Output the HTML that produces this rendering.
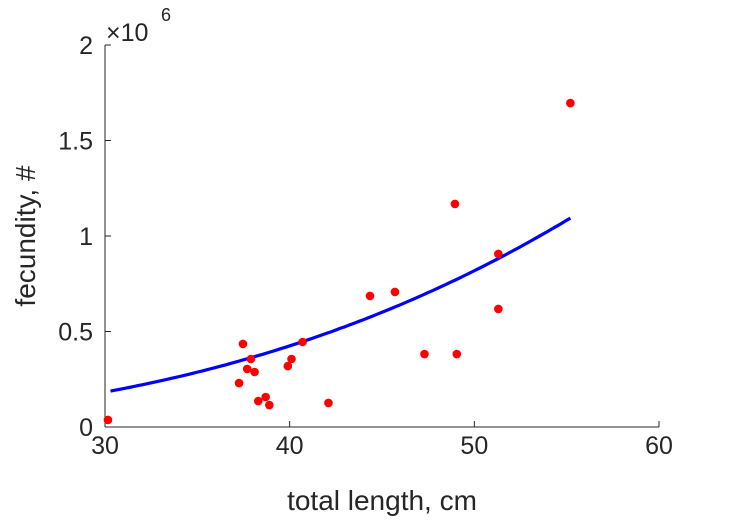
<!DOCTYPE html>
<html><head><meta charset="utf-8">
<style>
html,body{margin:0;padding:0;background:#fff;}
svg{display:block;font-family:"Liberation Sans",sans-serif;}
</style></head>
<body>
<svg id="chart" width="729" height="521" viewBox="0 0 729 521" xmlns="http://www.w3.org/2000/svg">
<g id="axes"></g>
<g id="series"></g>
</svg>
<script>
const xTicks=[30,40,50,60];
const yTicks=[0,0.5,1,1.5,2];
const yTickLabels=["0","0.5","1","1.5","2"];
const lengths=[30.16,37.47,37.26,37.7,37.9,38.1,38.3,38.7,38.9,39.9,40.1,40.7,42.1,44.35,45.7,47.3,48.95,49.05,51.3,51.3,55.2];
const fecundity=[0.037,0.435,0.23,0.304,0.356,0.288,0.136,0.157,0.115,0.319,0.356,0.445,0.126,0.686,0.707,0.382,1.168,0.382,0.906,0.618,1.696];
const fitRange=[30.3,55.2];
const fitParams=[0.188,30.3,2.936]; // y = a*(x/x0)^b (×1e6)

const NS="http://www.w3.org/2000/svg";
const X0=105,X1=659,Y0=427,Y1=45;
const xs=v=>X0+(v-30)/(60-30)*(X1-X0);
const ys=v=>Y0-(v-0)/(2-0)*(Y0-Y1);
function mk(tag,attrs,parent,text){const e=document.createElementNS(NS,tag);for(const k in attrs)e.setAttribute(k,attrs[k]);if(text!==undefined)e.textContent=text;parent.appendChild(e);return e;}
const ax=document.getElementById('axes');
const sr=document.getElementById('series');
const c="#262626";
let e=mk('line',{x1:X0,y1:Y0,x2:X1,y2:Y0,stroke:c,'stroke-width':1},ax);


e=mk('line',{x1:X0,y1:Y0,x2:X0,y2:Y1,stroke:c,'stroke-width':1},ax);


xTicks.forEach(t=>{
  const l=mk('line',{x1:xs(t),y1:Y0,x2:xs(t),y2:Y0-6,stroke:c},ax);
  
  
  const tx=mk('text',{x:xs(t),y:Y0+27,'text-anchor':'middle','font-size':25,fill:c},ax,String(t));
  
  
});
yTicks.forEach((t,i)=>{
  const l=mk('line',{x1:X0,y1:ys(t),x2:X0+6,y2:ys(t),stroke:c},ax);
  
  
  const tx=mk('text',{x:X0-12,y:ys(t)+9,'text-anchor':'end','font-size':25,fill:c},ax,yTickLabels[i]);
  
  
});
e=mk('text',{x:106,y:41,'font-size':25,fill:c},ax,"×10");


e=mk('text',{x:161,y:21,'font-size':18,fill:c},ax,"6");


e=mk('text',{x:382,y:510,'text-anchor':'middle','font-size':28,fill:c},ax,"total length, cm");


e=mk('text',{x:0,y:0,'text-anchor':'middle','font-size':28,fill:c,transform:`translate(35,${(Y0+Y1)/2}) rotate(-90)`},ax,"fecundity, #");


let pts=[];
for(let i=0;i<=100;i++){const x=fitRange[0]+(fitRange[1]-fitRange[0])*i/100;const y=fitParams[0]*Math.pow(x/fitParams[1],fitParams[2]);pts.push(xs(x).toFixed(1)+","+ys(y).toFixed(1));}
e=mk('polyline',{points:pts.join(" "),fill:"none",stroke:"#0000ff",'stroke-width':3.2},sr);


lengths.forEach((x,i)=>{
  const d=mk('circle',{cx:xs(x),cy:ys(fecundity[i]),r:4.3,fill:"#ff0000"},sr);
  
  
});
</script>
</body></html>
